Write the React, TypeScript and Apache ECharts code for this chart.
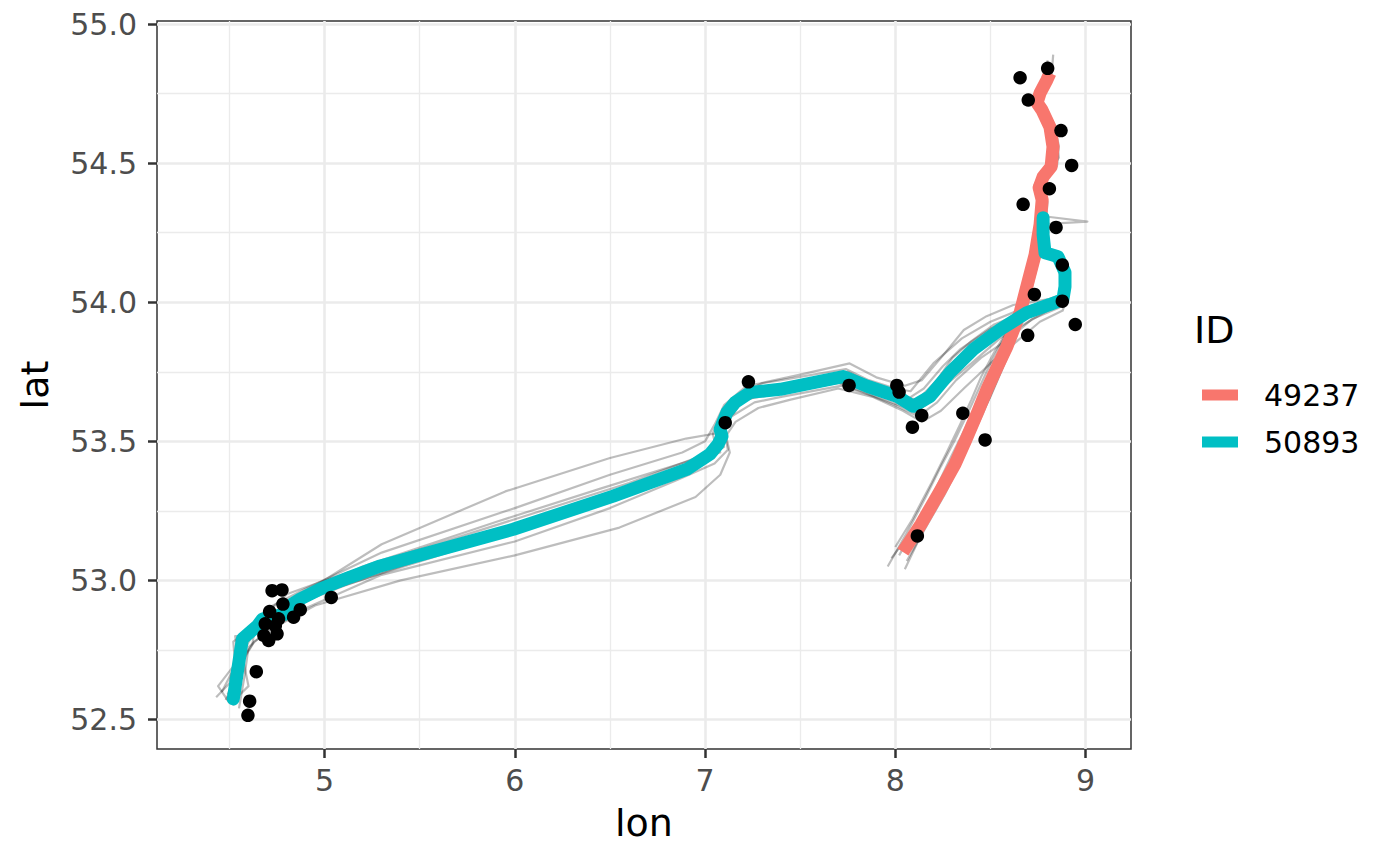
import React, { useEffect, useRef } from "react";
import * as echarts from "echarts";

// ---- axis ticks ----
const xTicks = [5, 6, 7, 8, 9];
const xMinor = [4.5, 5.5, 6.5, 7.5, 8.5];
const yTicks = [52.5, 53.0, 53.5, 54.0, 54.5, 55.0];
const yMinor = [52.75, 53.25, 53.75, 54.25, 54.75];
const xRange = [4.119, 9.239];
const yRange = [52.394, 55.011];

const ids = ["49237", "50893"];
const idColors = ["#F8766D", "#00BFC4"];

// ---- fitted tracks (lon, lat) ----
const track49237: [number, number][] = [
  [8.040, 53.102], [8.135, 53.202], [8.235, 53.321], [8.314, 53.418], [8.372, 53.507],
  [8.435, 53.608], [8.482, 53.687], [8.535, 53.766], [8.587, 53.841], [8.656, 53.963],
  [8.698, 54.074], [8.735, 54.171], [8.761, 54.279], [8.772, 54.368], [8.756, 54.412],
  [8.777, 54.451], [8.819, 54.487], [8.829, 54.559], [8.813, 54.630], [8.771, 54.691],
  [8.745, 54.717], [8.761, 54.752], [8.797, 54.799], [8.813, 54.824],
];

const track50893: [number, number][] = [
  [4.520, 52.574], [4.568, 52.790], [4.610, 52.815], [4.646, 52.836], [4.673, 52.861],
  [4.741, 52.872], [4.793, 52.879], [4.830, 52.915], [4.872, 52.933], [4.977, 52.969],
  [5.135, 53.012], [5.293, 53.052], [5.992, 53.184], [6.517, 53.303], [6.906, 53.400],
  [7.026, 53.454], [7.068, 53.489], [7.089, 53.518], [7.079, 53.543], [7.115, 53.604],
  [7.158, 53.640], [7.237, 53.676], [7.395, 53.687], [7.726, 53.733], [7.762, 53.723],
  [7.852, 53.698], [8.009, 53.662], [8.093, 53.626], [8.183, 53.662], [8.288, 53.748],
  [8.409, 53.830], [8.551, 53.902], [8.693, 53.963], [8.813, 53.992], [8.881, 54.010],
  [8.892, 54.056], [8.892, 54.107], [8.855, 54.164], [8.787, 54.178], [8.777, 54.243],
  [8.777, 54.304],
];

// ---- simulated tracks (grey) ----
const sim50893a: [number, number][] = [
  [4.46, 52.60], [4.52, 52.68], [4.55, 52.80], [4.62, 52.84], [4.70, 52.90], [4.90, 52.97],
  [5.30, 53.10], [6.00, 53.26], [6.50, 53.38], [6.88, 53.46], [7.00, 53.50], [7.05, 53.56],
  [7.10, 53.63], [7.22, 53.70], [7.40, 53.72], [7.74, 53.76], [7.86, 53.72], [8.00, 53.69],
  [8.08, 53.68], [8.20, 53.78], [8.35, 53.87], [8.50, 53.93], [8.68, 53.98], [8.82, 54.00],
  [8.90, 54.02], [8.90, 54.10], [8.86, 54.17], [8.80, 54.19], [8.78, 54.30],
];
const sim50893b: [number, number][] = [
  [4.55, 52.54], [4.58, 52.66], [4.60, 52.76], [4.70, 52.82], [4.90, 52.90], [5.30, 53.02],
  [6.00, 53.14], [6.50, 53.26], [6.85, 53.36], [7.05, 53.42], [7.12, 53.47], [7.10, 53.54],
  [7.14, 53.59], [7.26, 53.64], [7.40, 53.66], [7.72, 53.70], [7.85, 53.67], [8.00, 53.63],
  [8.12, 53.59], [8.22, 53.64], [8.32, 53.72], [8.45, 53.80], [8.60, 53.87], [8.72, 53.94],
  [8.86, 53.98], [8.89, 54.05], [8.88, 54.12], [8.84, 54.16], [8.79, 54.17], [8.78, 54.28],
];
const sim50893c: [number, number][] = [
  [4.50, 52.56], [4.44, 52.62], [4.53, 52.70], [4.52, 52.78], [4.58, 52.81], [4.66, 52.86],
  [4.80, 52.95], [5.00, 53.00], [5.40, 53.09], [6.00, 53.22], [6.60, 53.35], [6.95, 53.44],
  [7.06, 53.47], [7.04, 53.53], [7.12, 53.62], [7.25, 53.69], [7.55, 53.72], [7.75, 53.75],
  [7.90, 53.70], [8.02, 53.66], [8.12, 53.65], [8.22, 53.72], [8.30, 53.80], [8.40, 53.86],
  [8.52, 53.92], [8.70, 53.97], [8.84, 54.00], [8.88, 54.03], [8.87, 54.09], [8.84, 54.15],
  [8.76, 54.20], [8.79, 54.25],
];
const sim50893d: [number, number][] = [
  [4.54, 52.58], [4.60, 52.62], [4.57, 52.72], [4.62, 52.77], [4.64, 52.85], [4.75, 52.89],
  [5.00, 52.96], [5.60, 53.09], [6.20, 53.22], [6.70, 53.33], [7.02, 53.43], [7.08, 53.50],
  [7.09, 53.56], [7.15, 53.60], [7.20, 53.65], [7.38, 53.67], [7.70, 53.71], [7.82, 53.68],
  [7.98, 53.64], [8.10, 53.61], [8.16, 53.63], [8.26, 53.70], [8.40, 53.78], [8.55, 53.87],
  [8.70, 53.93], [8.85, 53.99], [8.88, 54.02], [8.90, 54.12], [8.85, 54.15], [8.80, 54.18],
  [8.77, 54.26],
];
const sim50893e: [number, number][] = [
  [4.48, 52.57], [4.53, 52.64], [4.58, 52.78], [4.64, 52.82], [4.72, 52.88], [4.95, 52.98],
  [5.30, 53.13], [5.95, 53.32], [6.50, 53.44], [6.90, 53.51], [7.07, 53.53], [7.11, 53.58],
  [7.14, 53.65], [7.30, 53.71], [7.50, 53.74], [7.76, 53.78], [7.90, 53.73], [8.05, 53.70],
  [8.14, 53.72], [8.24, 53.80], [8.36, 53.90], [8.48, 53.95], [8.62, 53.99], [8.80, 54.01],
  [8.89, 54.03], [8.89, 54.11], [8.83, 54.16], [8.78, 54.22],
];
const sim50893f: [number, number][] = [
  [4.52, 52.55], [4.56, 52.70], [4.63, 52.78], [4.76, 52.84], [4.95, 52.91], [5.40, 53.00],
  [6.00, 53.09], [6.55, 53.19], [6.95, 53.30], [7.08, 53.38], [7.13, 53.46], [7.11, 53.52],
  [7.16, 53.57], [7.28, 53.62], [7.45, 53.65], [7.70, 53.69], [7.88, 53.66], [8.04, 53.61],
  [8.14, 53.57], [8.24, 53.61], [8.36, 53.69], [8.50, 53.78], [8.64, 53.86], [8.76, 53.93],
  [8.88, 53.97], [8.91, 54.04], [8.89, 54.13], [8.82, 54.17], [8.78, 54.24],
];
const sim50893g: [number, number][] = [
  [4.51, 52.58], [4.55, 52.72], [4.57, 52.79], [4.63, 52.83], [4.70, 52.87], [4.88, 52.94],
  [5.20, 53.03], [5.80, 53.16], [6.40, 53.29], [6.88, 53.41], [7.04, 53.47], [7.07, 53.52],
  [7.10, 53.58], [7.18, 53.66], [7.35, 53.69], [7.72, 53.74], [7.85, 53.71], [8.01, 53.67],
  [8.09, 53.64], [8.18, 53.68], [8.29, 53.76], [8.42, 53.84], [8.56, 53.91], [8.70, 53.96],
  [8.83, 54.00], [8.89, 54.02], [8.90, 54.09], [8.86, 54.15], [8.79, 54.18], [8.77, 54.29],
];
const sim50893h: [number, number][] = [
  [4.49, 52.59], [4.56, 52.69], [4.59, 52.78], [4.66, 52.83], [4.80, 52.90], [5.10, 52.98],
  [5.70, 53.12], [6.30, 53.25], [6.80, 53.37], [7.00, 53.44], [7.10, 53.48], [7.06, 53.55],
  [7.13, 53.62], [7.22, 53.67], [7.45, 53.70], [7.73, 53.72], [7.84, 53.69], [7.99, 53.65],
  [8.07, 53.62], [8.17, 53.65], [8.27, 53.73], [8.38, 53.81], [8.53, 53.89], [8.68, 53.95],
  [8.82, 53.99], [8.87, 54.01], [8.88, 54.08], [8.87, 54.14], [8.80, 54.17], [8.78, 54.27],
];
const sim50893i: [number, number][] = [
  [4.43, 52.58], [4.50, 52.63], [4.54, 52.75], [4.53, 52.80], [4.61, 52.80], [4.68, 52.85],
  [4.84, 52.93], [5.20, 53.05], [5.90, 53.21], [6.45, 53.33], [6.92, 53.43], [7.08, 53.46],
  [7.06, 53.51], [7.12, 53.57], [7.16, 53.63], [7.30, 53.68], [7.60, 53.71], [7.76, 53.71],
  [7.92, 53.68], [8.04, 53.64], [8.11, 53.60], [8.20, 53.66], [8.31, 53.75], [8.46, 53.85],
  [8.60, 53.92], [8.76, 53.98], [8.87, 54.00], [8.91, 54.07], [8.87, 54.13], [8.81, 54.16],
  [8.78, 54.22],
];
const sim50893j: [number, number][] = [
  [4.53, 52.60], [4.57, 52.74], [4.61, 52.79], [4.67, 52.84], [4.73, 52.86], [4.92, 52.95],
  [5.50, 53.10], [6.10, 53.22], [6.60, 53.32], [6.98, 53.42], [7.09, 53.49], [7.08, 53.55],
  [7.11, 53.60], [7.19, 53.64], [7.33, 53.68], [7.65, 53.73], [7.80, 53.72], [7.95, 53.67],
  [8.06, 53.65], [8.15, 53.69], [8.25, 53.77], [8.34, 53.83], [8.49, 53.90], [8.66, 53.96],
  [8.85, 54.01], [8.90, 54.06], [8.91, 54.11], [8.86, 54.16], [8.78, 54.19], [8.77, 54.28],
];
const sim49237a: [number, number][] = [
  [7.96, 53.05], [8.06, 53.17], [8.16, 53.30], [8.24, 53.41], [8.31, 53.50], [8.38, 53.60],
  [8.44, 53.69], [8.50, 53.78], [8.57, 53.87], [8.64, 53.97], [8.69, 54.07], [8.72, 54.17],
  [8.74, 54.28], [8.75, 54.37], [8.73, 54.42], [8.76, 54.46], [8.80, 54.50], [8.81, 54.56],
  [8.80, 54.63], [8.75, 54.69], [8.73, 54.72], [8.75, 54.76], [8.79, 54.81], [8.81, 54.85],
];
const sim49237b: [number, number][] = [
  [8.06, 53.07], [8.16, 53.19], [8.26, 53.31], [8.34, 53.42], [8.40, 53.51], [8.46, 53.60],
  [8.51, 53.68], [8.56, 53.76], [8.61, 53.84], [8.67, 53.95], [8.72, 54.06], [8.76, 54.17],
  [8.79, 54.27], [8.80, 54.36], [8.78, 54.41], [8.80, 54.45], [8.85, 54.49], [8.86, 54.56],
  [8.84, 54.63], [8.80, 54.69], [8.77, 54.72], [8.78, 54.76], [8.82, 54.80], [8.83, 54.89],
];
const sim49237c: [number, number][] = [
  [8.02, 53.09], [8.12, 53.21], [8.22, 53.33], [8.30, 53.43], [8.36, 53.52], [8.42, 53.61],
  [8.47, 53.70], [8.53, 53.78], [8.59, 53.86], [8.66, 53.97], [8.70, 54.08], [8.74, 54.18],
  [8.76, 54.28], [9.01, 54.29], [8.77, 54.31], [8.78, 54.37], [8.75, 54.41], [8.78, 54.46],
  [8.83, 54.49], [8.84, 54.56], [8.82, 54.64], [8.77, 54.70], [8.74, 54.72], [8.76, 54.75],
  [8.80, 54.80], [8.80, 54.87],
];
const sim49237d: [number, number][] = [
  [8.00, 53.12], [8.09, 53.22], [8.19, 53.35], [8.27, 53.46], [8.34, 53.56], [8.40, 53.65],
  [8.45, 53.73], [8.52, 53.82], [8.60, 53.91], [8.67, 54.01], [8.71, 54.10], [8.73, 54.20],
  [8.76, 54.30], [8.77, 54.38], [8.76, 54.43], [8.79, 54.47], [8.82, 54.51], [8.83, 54.58],
  [8.81, 54.64], [8.76, 54.70], [8.74, 54.73], [8.77, 54.78], [8.81, 54.83],
];
const sim49237e: [number, number][] = [
  [8.05, 53.04], [8.14, 53.17], [8.23, 53.29], [8.32, 53.40], [8.38, 53.49], [8.44, 53.58],
  [8.50, 53.66], [8.55, 53.74], [8.60, 53.82], [8.66, 53.93], [8.70, 54.04], [8.73, 54.15],
  [8.75, 54.25], [8.78, 54.35], [8.76, 54.40], [8.78, 54.44], [8.84, 54.48], [8.85, 54.55],
  [8.83, 54.62], [8.78, 54.68], [8.74, 54.71], [8.77, 54.77], [8.81, 54.82],
];
const sim49237f: [number, number][] = [
  [7.98, 53.08], [8.10, 53.19], [8.20, 53.31], [8.29, 53.44], [8.37, 53.55], [8.43, 53.64],
  [8.49, 53.72], [8.56, 53.80], [8.62, 53.89], [8.68, 53.99], [8.72, 54.09], [8.75, 54.19],
  [8.77, 54.29], [8.79, 54.39], [8.77, 54.43], [8.81, 54.47], [8.86, 54.52], [8.84, 54.60],
  [8.79, 54.66], [8.75, 54.70], [8.76, 54.74], [8.80, 54.79], [8.82, 54.84],
];

const simTracks = [
  sim49237a, sim49237b, sim49237c, sim49237d, sim49237e, sim49237f,
  sim50893a, sim50893b, sim50893c, sim50893d, sim50893e, sim50893f, sim50893g, sim50893h,
  sim50893i, sim50893j,
];

// ---- observed locations ----
const observed: [number, number][] = [
  [4.724, 52.963], [4.776, 52.966], [5.035, 52.939], [4.781, 52.915], [4.711, 52.888],
  [4.872, 52.895], [4.837, 52.868], [4.758, 52.862], [4.688, 52.844], [4.741, 52.837],
  [4.681, 52.802], [4.750, 52.808], [4.706, 52.784], [4.641, 52.672], [4.606, 52.566],
  [4.597, 52.515], [7.228, 53.714], [7.106, 53.567], [7.757, 53.701], [8.008, 53.701],
  [8.020, 53.677], [8.139, 53.593], [8.090, 53.551], [8.355, 53.601], [8.472, 53.505],
  [8.116, 53.160], [8.801, 54.841], [8.656, 54.807], [8.699, 54.727], [8.871, 54.617],
  [8.927, 54.492], [8.810, 54.408], [8.672, 54.352], [8.845, 54.269], [8.878, 54.134],
  [8.731, 54.028], [8.878, 54.004], [8.946, 53.920], [8.696, 53.881],
];

const FONT = "DejaVu Sans";

export default function App() {
  const ref = useRef<HTMLDivElement>(null);

  useEffect(() => {
    document.body.style.margin = "0";
    if (!ref.current) return;
    const chart = echarts.init(ref.current, undefined, { renderer: "svg" });

    const greySeries = simTracks.map((d, i) => ({
      type: "line",
      name: "sim" + i,
      data: d,
      symbol: "none",
      silent: true,
      lineStyle: { color: "#000000", opacity: 0.26, width: 2.2, join: "round" },
      z: 2,
    }));

    const option: any = {
      animation: false,
      grid: {
        left: 157,
        right: 269,
        top: 21,
        bottom: 116,
        show: true,
        borderColor: "#333333",
        borderWidth: 1.5,
        backgroundColor: "transparent",
        outerBoundsMode: "none",
      },
      xAxis: [
        {
          type: "value",
          min: xRange[0],
          max: xRange[1],
          name: "lon",
          nameLocation: "middle",
          nameGap: 55,
          nameTextStyle: { fontFamily: FONT, fontSize: 38, color: "#000000" },
          axisLine: { show: false },
          axisTick: { show: true, customValues: xTicks, length: 9, lineStyle: { color: "#333333", width: 2.5 } },
          axisLabel: {
            customValues: xTicks,
            fontFamily: FONT,
            fontSize: 30,
            color: "#4D4D4D",
            margin: 16,
            formatter: (v: number) => String(v),
          },
          splitLine: { show: true, lineStyle: { color: "#EBEBEB", width: 2.6 } },
        },
        {
          type: "value",
          min: xRange[0],
          max: xRange[1],
          axisLine: { show: false },
          axisTick: { show: false, customValues: xMinor },
          axisLabel: { show: false, customValues: xMinor },
          splitLine: { show: true, lineStyle: { color: "#EBEBEB", width: 1.3 } },
        },
      ],
      yAxis: [
        {
          type: "value",
          min: yRange[0],
          max: yRange[1],
          name: "lat",
          nameLocation: "middle",
          nameRotate: 90,
          nameGap: 103,
          nameTextStyle: { fontFamily: FONT, fontSize: 38, color: "#000000" },
          axisLine: { show: false },
          axisTick: { show: true, customValues: yTicks, length: 9, lineStyle: { color: "#333333", width: 2.5 } },
          axisLabel: {
            customValues: yTicks,
            fontFamily: FONT,
            fontSize: 30,
            color: "#4D4D4D",
            margin: 20,
            formatter: (v: number) => v.toFixed(1),
          },
          splitLine: { show: true, lineStyle: { color: "#EBEBEB", width: 2.6 } },
        },
        {
          type: "value",
          min: yRange[0],
          max: yRange[1],
          axisLine: { show: false },
          axisTick: { show: false, customValues: yMinor },
          axisLabel: { show: false, customValues: yMinor },
          splitLine: { show: true, lineStyle: { color: "#EBEBEB", width: 1.3 } },
        },
      ],
      legend: {
        data: ids,
        orient: "vertical",
        left: 1197,
        top: 372,
        icon: "rect",
        itemWidth: 36,
        itemHeight: 11,
        itemGap: 11,
        selectedMode: false,
        textStyle: {
          fontFamily: FONT,
          fontSize: 30,
          color: "#000000",
          lineHeight: 36,
          padding: [0, 0, 0, 21],
        },
      },
      graphic: [
        {
          type: "text",
          x: 1194,
          y: 330,
          style: {
            text: "ID",
            fontFamily: FONT,
            fontSize: 38,
            fill: "#000000",
            verticalAlign: "middle",
            align: "left",
          },
        },
      ],
      series: [
        ...greySeries,
        {
          type: "line",
          name: ids[0],
          data: track49237,
          symbol: "none",
          color: idColors[0],
          itemStyle: { color: idColors[0] },
          lineStyle: { color: idColors[0], width: 13, join: "round", cap: "butt" },
          z: 3,
        },
        {
          type: "line",
          name: ids[1],
          data: track50893,
          symbol: "none",
          color: idColors[1],
          itemStyle: { color: idColors[1] },
          lineStyle: { color: idColors[1], width: 13, join: "round", cap: "round" },
          z: 4,
        },
        {
          type: "scatter",
          name: "observed",
          data: observed,
          symbol: "circle",
          symbolSize: 13.5,
          itemStyle: { color: "#000000", opacity: 1 },
          z: 5,
        },
      ],
    };

    chart.setOption(option);
    return () => chart.dispose();
  }, []);

  return (
    <div
      ref={ref}
      style={{ position: "fixed", left: 0, top: 0, width: 1400, height: 865, background: "#ffffff" }}
    />
  );
}
